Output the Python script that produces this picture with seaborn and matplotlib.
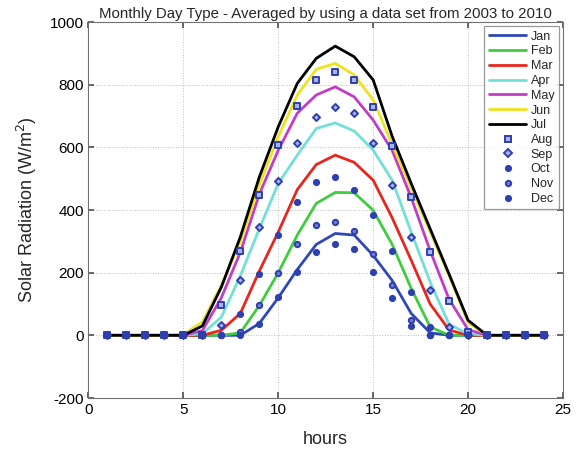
import numpy as np
import pandas as pd
import matplotlib
matplotlib.use("Agg")
import matplotlib.pyplot as plt
from matplotlib.lines import Line2D
import seaborn as sns

hours = list(range(1, 25))

jan = [0,0,0,0,0,0,0,0,38,120,210,290,325,320,255,175,70,8,0,0,0,0,0,0]
feb = [0,0,0,0,0,0,0,8,95,200,320,421,456,455,399,290,150,27,0,0,0,0,0,0]
mar = [0,0,0,0,0,0,16,70,205,330,465,545,575,552,495,375,240,100,17,0,0,0,0,0]
apr = [0,0,0,0,0,5,58,190,340,485,575,660,678,652,591,495,330,170,35,5,0,0,0,0]
may = [0,0,0,0,0,15,120,265,450,591,709,767,793,761,687,590,440,270,115,18,0,0,0,0]
jun = [0,0,0,0,3,43,160,300,480,634,767,849,868,831,751,610,470,330,190,40,0,0,0,0]
jul = [0,0,0,0,0,30,154,314,505,666,804,884,923,889,815,635,485,340,195,48,0,0,0,0]

aug = [0,0,0,0,0,0,96,268,447,607,732,815,841,815,730,603,443,266,110,10,0,0,0,0]
sep = [0,0,0,0,0,0,32,178,346,493,615,697,728,709,615,479,314,144,27,0,0,0,0,0]
oct_ = [0,0,0,0,0,0,0,67,195,319,426,490,505,465,383,270,138,27,0,0,0,0,0,0]
nov = [0,0,0,0,0,0,0,10,96,199,293,351,362,333,261,160,50,0,0,0,0,0,0,0]
dec = [0,0,0,0,0,0,0,0,35,122,203,266,293,277,203,120,30,0,0,0,0,0,0,0]

line_months = ["Jan", "Feb", "Mar", "Apr", "May", "Jun", "Jul"]
line_values = [jan, feb, mar, apr, may, jun, jul]
line_colors = ["#2f48b8", "#3fcc3f", "#e8261e", "#72e0d6", "#c23cc6", "#ece41e", "#000000"]

point_months = ["Aug", "Sep", "Oct", "Nov", "Dec"]
point_values = [aug, sep, oct_, nov, dec]
point_markers = ["s", "D", "o", "o", "o"]
point_faces = ["#aab4ea", "#aab4ea", "#2e3fae", "#6f7cd0", "#2e3fae"]
point_sizes = [15, 13, 14, 15, 14]
pt_color = "#2e3fae"

df_lines = pd.DataFrame({
    "hour": np.tile(hours, len(line_months)),
    "value": np.concatenate(line_values),
    "month": np.repeat(line_months, len(hours)),
})

sns.set_theme(style="white")
plt.rcParams["font.family"] = ["Liberation Sans", "DejaVu Sans"]
plt.rcParams["axes.unicode_minus"] = False

fig = plt.figure(figsize=(5.78, 4.53), dpi=100)
ax = fig.add_axes([88.5 / 578, 1 - 398 / 453, (563 - 88.5) / 578, (398 - 22) / 453])

sns.lineplot(data=df_lines, x="hour", y="value", hue="month",
             palette=dict(zip(line_months, line_colors)), linewidth=2.0,
             legend=False, ax=ax, zorder=3)

for m, vals, mk, fc, s in zip(point_months, point_values, point_markers, point_faces, point_sizes):
    dfp = pd.DataFrame({"hour": hours, "value": vals})
    sns.scatterplot(data=dfp, x="hour", y="value", marker=mk, s=s,
                    facecolor=fc, edgecolor=pt_color, linewidth=1.4,
                    legend=False, ax=ax, zorder=4)

ax.set_xlim(0, 25)
ax.set_ylim(-200, 1000)
ax.set_xticks([0, 5, 10, 15, 20, 25])
ax.set_yticks([-200, 0, 200, 400, 600, 800, 1000])
ax.grid(True, linestyle=":", color="#bdbdbd", linewidth=0.7)
ax.tick_params(direction="in", length=4, labelsize=11, colors="#555555",
               labelcolor="black", top=True, right=True, bottom=True, left=True)
for sp in ax.spines.values():
    sp.set_color("#707070")
    sp.set_linewidth(0.8)

ax.set_xlabel("hours", fontsize=13, labelpad=10)
ax.set_ylabel("Solar Radiation (W/m$^2$)", fontsize=13, labelpad=8)
ax.set_title("Monthly Day Type - Averaged by using a data set from 2003 to 2010",
             fontsize=10.8, pad=3)

handles = []
for m, c in zip(line_months, line_colors):
    handles.append(Line2D([0], [0], color=c, linewidth=2.0, label=m))
for m, mk, fc, s in zip(point_months, point_markers, point_faces, point_sizes):
    handles.append(Line2D([0], [0], linestyle="none", marker=mk, markersize=np.sqrt(s),
                          markerfacecolor=fc, markeredgecolor=pt_color,
                          markeredgewidth=1.4, label=m))
leg = ax.legend(handles=handles, loc="upper right", fontsize=9, frameon=True,
                fancybox=False, edgecolor="#808080", labelspacing=0.22,
                handlelength=3.0, handletextpad=0.35, borderpad=0.35,
                borderaxespad=0.35)
leg.get_frame().set_linewidth(0.9)

fig.savefig("out.png", dpi=100)
